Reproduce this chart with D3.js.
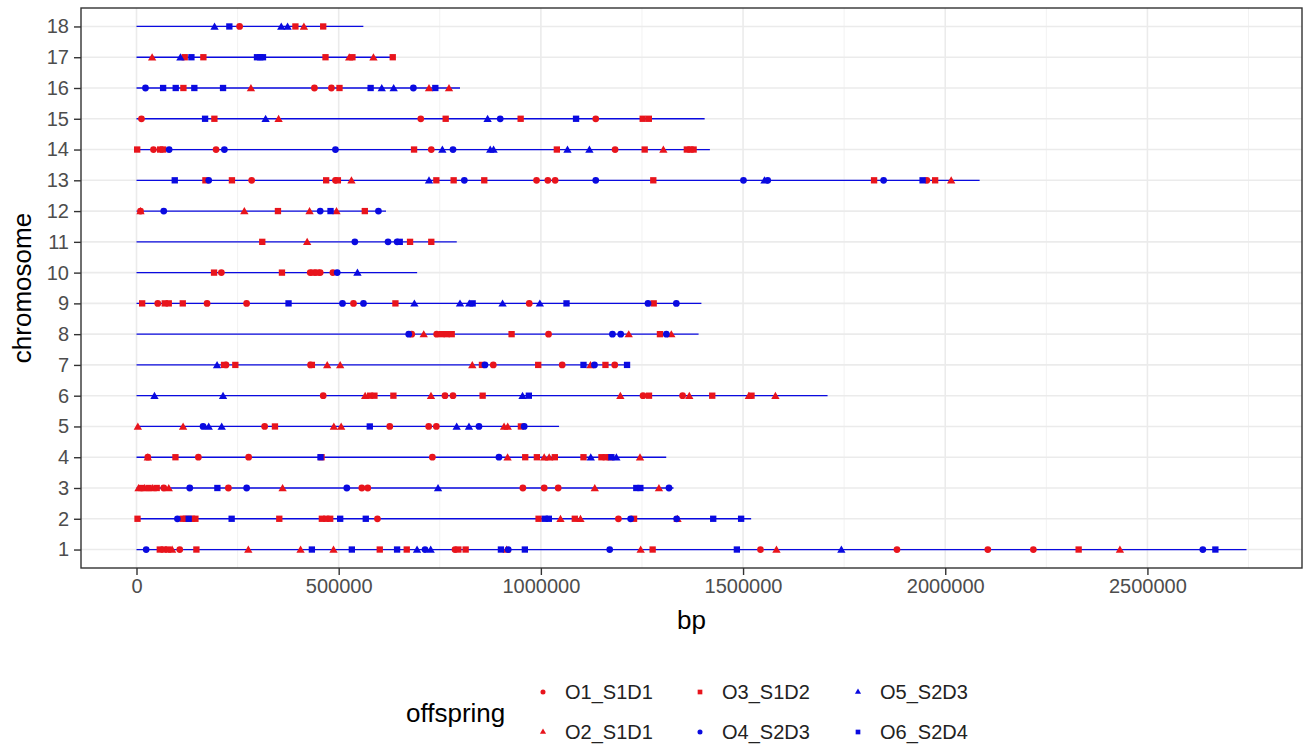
<!DOCTYPE html>
<html>
<head>
<meta charset="utf-8">
<script src="https://cdn.jsdelivr.net/npm/d3@7/dist/d3.min.js"></script>
<style>
  body { margin: 0; background: #fff; }
  svg { display: block; font-family: "Liberation Sans", Arial, sans-serif; }
</style>
</head>
<body>
<svg id="chart" width="1306" height="746"></svg>
<script>
// chromosome lengths (bp), index 0 = chromosome 1
const chromosomes = d3.range(1, 19);
const chromLength = [2745000, 1520000, 1328000, 1310000, 1045000, 1709000, 1220000, 1390000, 1397000,
    694000, 792000, 617000, 2085000, 1418000, 1405000, 800000, 639000, 561000];

const offspring = ['O1_S1D1', 'O2_S1D1', 'O3_S1D2', 'O4_S2D3', 'O5_S2D3', 'O6_S2D4'];
const xTicks = [0, 500000, 1000000, 1500000, 2000000, 2500000];

// break points per offspring, as [chromosome, bp]
const o1_S1D1 = [[18,255000],[16,440000],[16,482000],[15,12300],[15,703000],[15,1135700],
    [14,42000],[14,196700],[14,729000],[14,1183500],[13,284800],[13,492000],[13,989300],[13,1017200],
    [13,1035300],[13,1954600],[12,9900],[10,209900],[10,429600],[10,454300],[10,485600],
    [9,52600],[9,174500],[9,272300],[9,536600],[9,971200],[8,680600],[8,742400],[8,1019000],
    [7,221400],[7,430400],[7,882300],[7,1052700],[7,1182700],[6,461700],[6,762900],[6,782600],
    [6,1252600],[6,1350500],[5,316900],[5,626300],[5,722600],[5,741500],[4,28000],[4,153000],
    [4,277300],[4,731700],[3,67400],[3,227200],[3,557200],[3,571900],[3,955500],[3,1008200],
    [3,1042800],[2,595800],[2,1191700],[1,107000],[1,787600],[1,1543100],[1,1880600],[1,2105300],
    [1,2217900]];

const o2_S1D1 = [[18,414000],[17,38700],[17,526000],[17,586000],[16,283000],[16,723400],[16,772800],
    [15,351400],[14,1302900],[13,531600],[13,2014700],[12,9900],[12,266700],[12,428000],[12,494600],
    [11,422000],[8,710300],[8,1217300],[8,1322600],[7,471600],[7,503700],[7,830400],[7,1122700],
    [6,565400],[6,728300],[6,1196600],[6,1367000],[6,1514300],[6,1580000],[5,3300],[5,115200],
    [5,488000],[5,506100],[5,909000],[5,918000],[4,28000],[4,917700],[4,1008200],[4,1020500],
    [4,1245200],[3,5000],[3,20000],[3,40000],[3,79800],[3,361300],[3,1133300],[3,1292000],
    [2,1048500],[2,1097900],[2,1338000],[1,88100],[1,276500],[1,405700],[1,487200],[1,915200],
    [1,1246800],[1,1582600],[1,2432000]];

const o3_S1D2 = [[18,393000],[18,461700],[17,119300],[17,165400],[17,467400],[17,534000],[17,633700],
    [16,116000],[16,502000],[15,192600],[15,764600],[15,950000],[15,1251800],[15,1267000],
    [14,1700],[14,58500],[14,65800],[14,686400],[14,1039500],[14,1256700],[14,1361000],[14,1370000],
    [14,1377700],[13,170400],[13,236000],[13,469000],[13,498000],[13,741500],[13,784300],[13,860000],
    [13,1278000],[13,1824000],[13,1975000],[12,349800],[12,564600],[11,311000],[11,676500],
    [11,729000],[10,191800],[10,359700],[10,437800],[10,446000],[9,14000],[9,69900],[9,79800],
    [9,114400],[9,640300],[9,1279000],[8,754800],[8,767100],[8,779500],[8,927600],[8,1294500],
    [7,216500],[7,244400],[7,433700],[7,854300],[7,993400],[7,1159700],[6,577700],[6,588400],
    [6,635300],[6,856000],[6,1267400],[6,1423800],[6,1520900],[5,342400],[5,950600],[4,96300],
    [4,457600],[4,961300],[4,990100],[4,1034500],[4,1105400],[4,1149800],[4,1160500],[4,1170300],
    [3,12000],[3,30000],[3,50000],[2,2500],[2,114000],[2,122000],[2,137400],[2,145700],[2,353100],
    [2,458400],[2,469100],[2,479000],[2,994300],[2,1083900],[2,1230400],[1,57600],[1,67400],
    [1,78200],[1,148100],[1,601600],[1,668300],[1,795900],[1,814000],[1,1276400],[1,2329900]];

const o4_S2D3 = [[16,22200],[16,684700],[15,899500],[14,80700],[14,217300],[14,492000],[14,782700],
    [13,178600],[13,810700],[13,1135700],[13,1501000],[13,1561000],[13,1847600],[12,67400],
    [12,454300],[12,598300],[11,540000],[11,622000],[11,644400],[10,496300],[9,509400],[9,561300],
    [9,1264900],[9,1335000],[8,673200],[8,1177000],[8,1197500],[8,1310300],[7,861700],[7,1132500],
    [5,164600],[5,846900],[5,958800],[4,896300],[3,131700],[3,272400],[3,520100],[3,1316800],
    [2,101200],[2,1222000],[2,1335700],[1,23900],[1,713500],[1,919300],[1,1170300],[1,2637000]];

const o5_S2D3 = [[18,193000],[18,358000],[18,373600],[17,108600],[16,606500],[16,636000],
    [15,319300],[15,868300],[14,756400],[14,874800],[14,883000],[14,1065800],[14,1120000],
    [13,723400],[13,1553000],[10,546400],[9,687200],[9,800000],[9,823000],[9,905300],[9,997500],
    [7,199200],[6,44400],[6,214000],[6,954700],[5,178600],[5,210700],[5,791800],[5,822200],
    [4,1123400],[4,1186700],[3,745700],[1,693800],[1,727500],[1,1743100]];

const o6_S2D4 = [[18,229600],[17,135800],[17,298000],[17,306000],[17,312800],[16,65800],[16,97000],
    [16,143000],[16,214000],[16,579000],[16,739000],[15,169600],[15,1087000],[13,94600],[13,1944000],
    [12,479800],[11,651000],[9,376000],[9,831300],[9,1063400],[7,1105400],[7,1213100],[6,970300],
    [5,576900],[4,455000],[4,1174400],[3,200000],[3,1236000],[3,1246000],[2,129100],[2,235300],
    [2,503700],[2,567000],[2,1009800],[2,1019700],[2,1426200],[2,1495200],[1,433700],[1,532500],
    [1,644400],[1,901200],[1,960400],[1,1484700],[1,2668000]];

const breaks = [o1_S1D1, o2_S1D1, o3_S1D2, o4_S2D3, o5_S2D3, o6_S2D4];

// ---- layout
const panel = {left: 81, right: 1302, top: 8, bottom: 568};
const RED = '#e8141c', BLUE = '#0a0ae0';

let colour = d3.scaleOrdinal().domain(offspring).range([RED, RED, RED, BLUE, BLUE, BLUE]);
let shape = d3.scaleOrdinal().domain(offspring)
    .range([d3.symbolCircle, d3.symbolTriangle, d3.symbolSquare, d3.symbolCircle, d3.symbolTriangle, d3.symbolSquare]);
let symSize = {circle: 36, triangle: 30, square: 40};
let sizeOf = (s, k) => k * (s === d3.symbolCircle ? symSize.circle : s === d3.symbolTriangle ? symSize.triangle : symSize.square);

// ggplot style 5% expansion
let xMax = d3.max(chromLength);
let x = d3.scaleLinear()
    .domain([-0.05 * xMax, 1.05 * xMax])
    .range([panel.left, panel.right]);

let y = d3.scalePoint()
    .domain(chromosomes)
    .range([panel.bottom, panel.top])
    .padding(0.6);

let svg = d3.select('#chart');

// panel grid
let grid = svg.append('g');
let minor = d3.range(250000, 2800000, 500000);
grid.selectAll('line.minor').data(minor).enter().append('line')
    .attr('x1', d => x(d)).attr('x2', d => x(d))
    .attr('y1', panel.top).attr('y2', panel.bottom)
    .attr('stroke', '#f0f0f0').attr('stroke-width', 0.9);
grid.selectAll('line.vmajor').data(xTicks).enter().append('line')
    .attr('x1', d => x(d)).attr('x2', d => x(d))
    .attr('y1', panel.top).attr('y2', panel.bottom)
    .attr('stroke', '#ebebeb').attr('stroke-width', 1.6);
grid.selectAll('line.hmajor').data(chromosomes).enter().append('line')
    .attr('x1', panel.left).attr('x2', panel.right)
    .attr('y1', d => y(d)).attr('y2', d => y(d))
    .attr('stroke', '#ebebeb').attr('stroke-width', 1.6);

// chromosome segments
svg.append('g').selectAll('line').data(chromosomes).enter().append('line')
    .attr('x1', x(0)).attr('x2', d => x(chromLength[d - 1]))
    .attr('y1', d => y(d)).attr('y2', d => y(d))
    .attr('stroke', BLUE).attr('stroke-width', 1.3);

// break points, one layer per offspring
let layers = svg.append('g').selectAll('g').data(offspring).enter().append('g');
layers.each(function(name, i) {
    let s = shape(name);
    d3.select(this).selectAll('path').data(breaks[i]).enter().append('path')
        .attr('d', d3.symbol().type(s).size(sizeOf(s, 1)))
        .attr('transform', d => `translate(${x(d[1])},${y(d[0]) + (s === d3.symbolTriangle ? 0.8 : 0)})`)
        .attr('fill', colour(name));
});

// panel border
svg.append('rect')
    .attr('x', panel.left).attr('y', panel.top)
    .attr('width', panel.right - panel.left).attr('height', panel.bottom - panel.top)
    .attr('fill', 'none').attr('stroke', '#333').attr('stroke-width', 1.4);

// axes
let xAxis = d3.axisBottom(x).tickValues(xTicks).tickFormat(d3.format('d')).tickSize(7).tickPadding(4);
let yAxis = d3.axisLeft(y).tickSize(7).tickPadding(5);

let gx = svg.append('g').attr('transform', `translate(0,${panel.bottom})`).call(xAxis);
let gy = svg.append('g').attr('transform', `translate(${panel.left},0)`).call(yAxis);
[gx, gy].forEach(g => {
    g.select('.domain').remove();
    g.selectAll('.tick line').attr('stroke', '#333').attr('stroke-width', 1.4);
    g.selectAll('.tick text').attr('fill', '#4d4d4d').style('font-size', '20px')
        .style('font-family', '"Liberation Sans", Arial, sans-serif');
});

svg.append('text')
    .attr('x', (panel.left + panel.right) / 2).attr('y', 629)
    .attr('text-anchor', 'middle').style('font-size', '26px')
    .text('bp');
svg.append('text')
    .attr('transform', `translate(31,${(panel.top + panel.bottom) / 2}) rotate(-90)`)
    .attr('text-anchor', 'middle').style('font-size', '26px')
    .text('chromosome');

// legend, two rows filled column by column
let legend = svg.append('g');
legend.append('text').attr('x', 406).attr('y', 722).style('font-size', '26px').text('offspring');
let colX = [543, 700, 858], rowY = [692, 732];
let items = legend.selectAll('g.item').data(offspring).enter().append('g')
    .attr('transform', (d, i) => `translate(${colX[Math.floor(i / 2)]},${rowY[i % 2]})`);
items.append('path')
    .attr('d', d => d3.symbol().type(shape(d)).size(sizeOf(shape(d), 0.55))())
    .attr('fill', d => colour(d));
items.append('text')
    .attr('x', 22).attr('dy', '0.36em')
    .attr('fill', '#222').style('font-size', '20px')
    .text(d => d);
</script>
</body>
</html>
